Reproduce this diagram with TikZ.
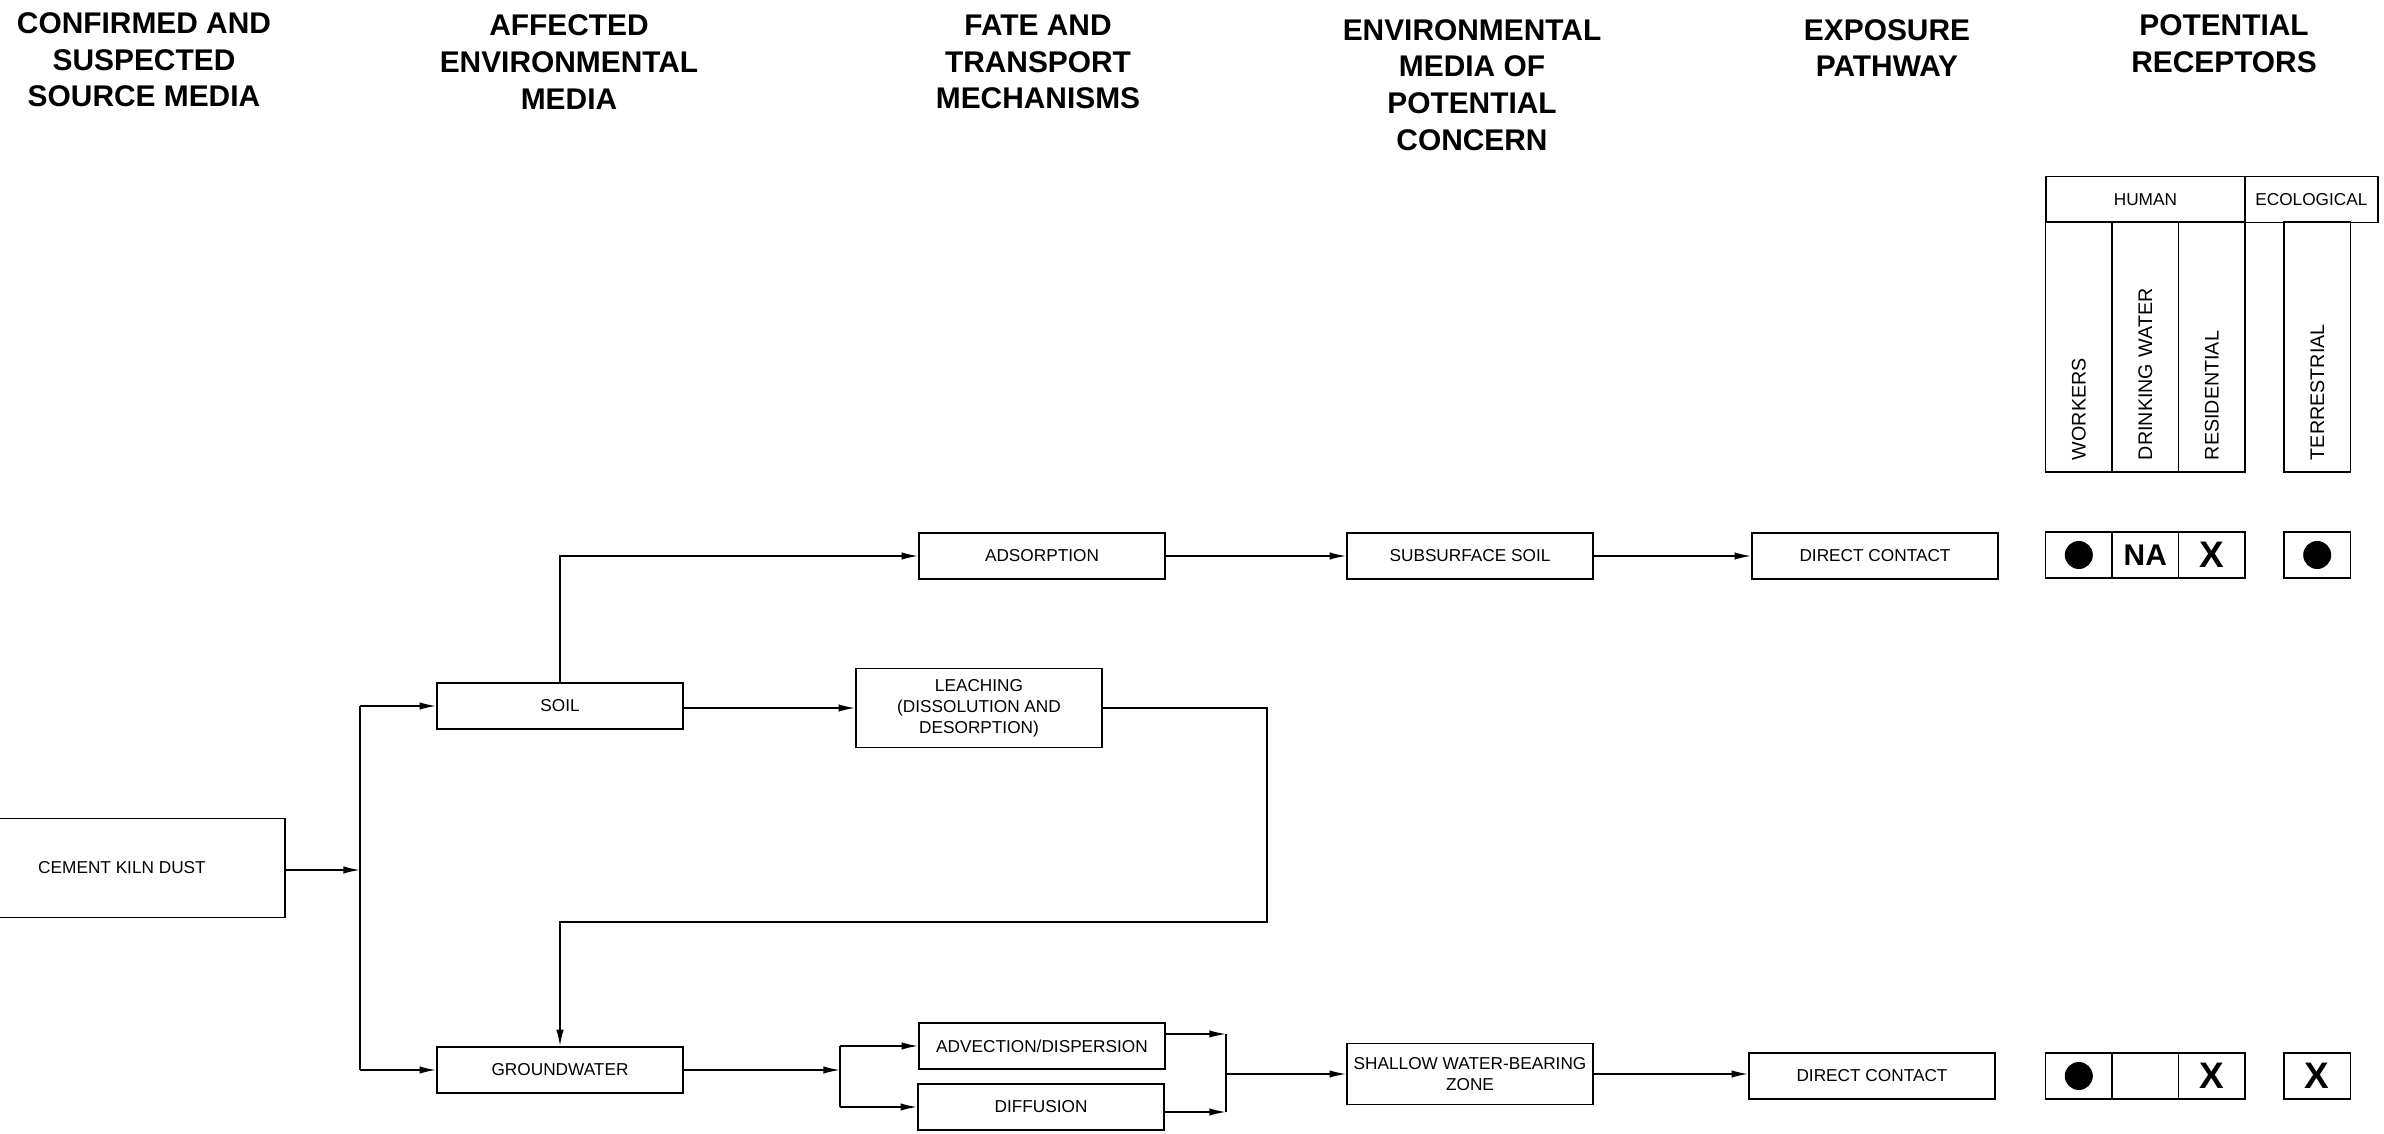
\documentclass[tikz,border=0pt]{standalone}
\usepackage{fontspec}
\setmainfont{Liberation Sans}
\usetikzlibrary{arrows.meta}
\tikzset{arr/.style = {-{Latex[length = 4.7pt, width = 2.1pt]}}}
\tikzset{head/.style = {align = center, inner sep = 0,
                        font = \fontsize{8.5}{10.4}\selectfont\bfseries}}
\tikzset{box/.style = {draw, rectangle, inner sep = 0, align = center,
                       minimum width = 2.46cm, minimum height = 0.46cm,
                       font = \fontsize{4.9}{6}\selectfont}}
\tikzset{cell/.style = {draw, rectangle, inner sep = 0,
                        minimum width = 0.665cm, minimum height = 0.46cm,
                        font = \fontsize{4.9}{6}\selectfont}}
\tikzset{col/.style = {draw, rectangle, rotate = 90, inner xsep = 0.12cm, inner ysep = 0,
                       minimum width = 2.5cm, minimum height = 0.665cm,
                       text width = 2.26cm, align = left,
                       font = \fontsize{5.6}{6.5}\selectfont}}
\tikzset{na/.style = {font = \fontsize{8.5}{8.5}\selectfont\bfseries}}
\tikzset{bigx/.style = {font = \fontsize{10.5}{10.5}\selectfont\bfseries}}
\tikzset{dot/.style = {fill, circle, inner sep = 0, minimum size = 0.28cm}}

\begin{document}
\begin{tikzpicture}[x = 0.01cm, y = -0.01cm, line width = 0.45pt]
        \clip (0, 0) rectangle (2384, 1134);
        % column titles
        \node [head] (tsrc) at (144, 60) {CONFIRMED AND\\SUSPECTED\\SOURCE MEDIA};
        \node [head] (taff) at (569, 62) {AFFECTED\\ENVIRONMENTAL\\MEDIA};
        \node [head] (tfate) at (1038, 62) {FATE AND\\TRANSPORT\\MECHANISMS};
        \node [head] (tmedia) at (1472, 85) {ENVIRONMENTAL\\MEDIA OF\\POTENTIAL\\CONCERN};
        \node [head] (texp) at (1887, 48) {EXPOSURE\\PATHWAY};
        \node [head] (trec) at (2224, 44) {POTENTIAL\\RECEPTORS};

        % flow boxes
        \node [box, minimum width = 3.26cm, minimum height = 0.99cm] (ckd) at (122, 868) {CEMENT KILN DUST};
        \node [box] (soil) at (560, 706) {SOIL};
        \node [box] (gw) at (560, 1070) {GROUNDWATER};
        \node [box] (ads) at (1042, 556) {ADSORPTION};
        \node [box, minimum height = 0.79cm] (leach) at (979, 708) {LEACHING\\(DISSOLUTION AND\\DESORPTION)};
        \node [box] (adv) at (1042, 1046) {ADVECTION/DISPERSION};
        \node [box] (dif) at (1041, 1107) {DIFFUSION};
        \node [box] (subs) at (1470, 556) {SUBSURFACE SOIL};
        \node [box, minimum height = 0.61cm] (swbz) at (1470, 1074) {SHALLOW WATER-BEARING\\ZONE};
        \node [box] (dc1) at (1875, 556) {DIRECT CONTACT};
        \node [box] (dc2) at (1872, 1076) {DIRECT CONTACT};

        % junctions
        \coordinate (fork) at (360, 870);
        \coordinate (split) at (840, 1070);
        \coordinate (loop) at (1267, 922);
        \coordinate (mrgA) at (1226, 1034);
        \coordinate (mrgB) at (1226, 1112);
        \coordinate (mrg) at (1226, 1074);

        % connectors
        \draw [arr] (ckd.east |- fork) -- (fork);
        \draw (fork |- soil) -- (fork |- gw);
        \draw [arr] (fork |- soil) -- (soil);
        \draw [arr] (fork |- gw) -- (gw);
        \draw [arr] (soil.north) |- (ads);
        \draw [arr] (soil.east |- leach) -- (leach);
        \draw [arr] (leach.east) -| (loop) -| (gw.north);
        \draw [arr] (gw) -- (split);
        \draw (split |- adv) -- (split |- dif);
        \draw [arr] (split |- adv) -- (adv);
        \draw [arr] (split |- dif) -- (dif);
        \draw [arr] (adv.east |- mrgA) -- (mrgA);
        \draw [arr] (dif.east |- mrgB) -- (mrgB);
        \draw (mrgA) -- (mrgB);
        \draw [arr] (mrg) -- (swbz);
        \draw [arr] (ads) -- (subs);
        \draw [arr] (subs) -- (dc1);
        \draw [arr] (swbz.east) -- (swbz.east -| dc2.west);

        % receptor table
        \node [cell, minimum width = 1.993cm] (hum) at (2145.4, 199.4) {HUMAN};
        \node [cell, minimum width = 1.327cm] (eco) at (2311.4, 199.4) {ECOLOGICAL};
        \node [col] (wrk) at (2078.8, 347) {WORKERS};
        \node [col] (drk) at (2145.3, 347) {DRINKING WATER};
        \node [col] (res) at (2211.8, 347) {RESIDENTIAL};
        \node [col] (ter) at (2317.2, 347) {TERRESTRIAL};

        \node [cell] (wrk1) at (2078.8, 555) {};
        \node [cell, na] (drk1) at (2145.3, 555) {NA};
        \node [cell, bigx] (res1) at (2211.8, 555) {X};
        \node [cell] (ter1) at (2317.2, 555) {};
        \node [dot] (wrk1d) at (wrk1) {};
        \node [dot] (ter1d) at (ter1) {};

        \node [cell] (wrk2) at (2078.8, 1076) {};
        \node [cell] (drk2) at (2145.3, 1076) {};
        \node [cell, bigx] (res2) at (2211.8, 1076) {X};
        \node [cell, bigx] (ter2) at (2317.2, 1076) {X};
        \node [dot] (wrk2d) at (wrk2) {};
\end{tikzpicture}
\end{document}
